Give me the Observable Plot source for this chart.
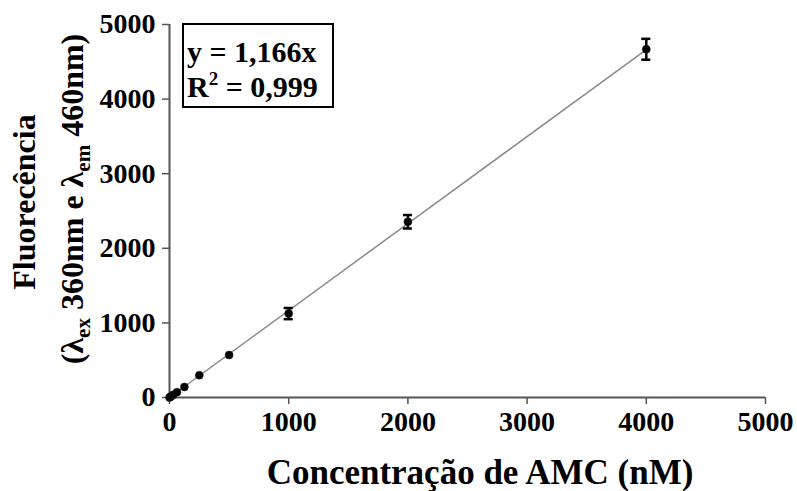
<!DOCTYPE html>
<html>
<head>
<meta charset="utf-8">
<script src="https://cdn.jsdelivr.net/npm/d3@7"></script>
<script src="https://cdn.jsdelivr.net/npm/@observablehq/plot@0.6"></script>
<style>
  html, body { margin: 0; padding: 0; background: #fff; }
</style>
</head>
<body>
<div id="chart"></div>
<script>
// Data
const concentrations = [0, 7.8, 15.6, 31.25, 62.5, 125, 250, 500, 1000, 2000, 4000]; // nM AMC
const fluorescence   = [0, 9, 18, 36, 72, 141, 298, 570, 1125, 2356, 4668];
const errors         = [0, 0, 0, 0, 0, 0, 0, 0, 75, 90, 140];
const xTicks = [0, 1000, 2000, 3000, 4000, 5000];
const yTicks = [0, 1000, 2000, 3000, 4000, 5000];
const fitSlope = [1.166];
const fitRange = [0, 4000];
const equationText = "y = 1,166x";
const r2Text = "0,999";

const points = concentrations.map((c, i) => ({x: c, y: fluorescence[i], e: errors[i]}));
const bars = points.filter(d => d.e > 0);
const fit = fitRange.map(x => ({x, y: fitSlope[0] * x}));

const FONT = "'Liberation Serif', 'Times New Roman', serif";
const AXIS = "#555";

const svg = Plot.plot({
  width: 797,
  height: 491,
  marginLeft: 169,
  marginRight: 32,
  marginTop: 24,
  marginBottom: 94,
  style: {fontFamily: FONT, fontSize: "28px", fontWeight: "bold", color: "#000", background: "#fff"},
  x: {domain: [0, 5000]},
  y: {domain: [0, 5000]},
  marks: [
    Plot.ruleY([0], {stroke: AXIS, strokeWidth: 2}),
    Plot.ruleX([0], {stroke: AXIS, strokeWidth: 2}),
    Plot.axisX({ticks: xTicks, tickFormat: d => String(d), tickSize: 7, tickPadding: 7, stroke: AXIS, strokeWidth: 1.5, label: null}),
    Plot.axisY({ticks: yTicks, tickFormat: d => String(d), tickSize: 7, tickPadding: 7, stroke: AXIS, strokeWidth: 1.5, label: null}),
    Plot.line(fit, {x: "x", y: "y", stroke: "#8a8a8a", strokeWidth: 1.5}),
    Plot.ruleX(bars, {x: "x", y1: d => d.y - d.e, y2: d => d.y + d.e, stroke: "#000", strokeWidth: 2.5}),
    Plot.ruleY(bars, {y: d => d.y - d.e, x1: d => d.x - 38, x2: d => d.x + 38, stroke: "#000", strokeWidth: 2.5}),
    Plot.ruleY(bars, {y: d => d.y + d.e, x1: d => d.x - 38, x2: d => d.x + 38, stroke: "#000", strokeWidth: 2.5}),
    Plot.dot(points, {x: "x", y: "y", r: 4, fill: "#000", stroke: "#222", strokeWidth: 0.5})
  ]
});

const s = d3.select(svg);

// x axis title
s.append("text")
  .attr("x", 480).attr("y", 484)
  .attr("text-anchor", "middle")
  .style("font-family", FONT).style("font-weight", "bold").style("font-size", "35px")
  .text("Concentração de AMC (nM)");

// y axis title, line 1
s.append("text")
  .attr("transform", "translate(35,202) rotate(-90)")
  .attr("text-anchor", "middle")
  .style("font-family", FONT).style("font-weight", "bold").style("font-size", "32px")
  .text("Fluorecência");

// y axis title, line 2 with subscripts
const t2 = s.append("text")
  .attr("transform", "translate(83,199) rotate(-90)")
  .attr("text-anchor", "middle")
  .style("font-family", FONT).style("font-weight", "bold").style("font-size", "32px");
t2.append("tspan").text("(λ");
t2.append("tspan").attr("dy", 7).style("font-size", "21px").text("ex");
t2.append("tspan").attr("dy", -7).text(" 360nm e λ");
t2.append("tspan").attr("dy", 7).style("font-size", "21px").text("em");
t2.append("tspan").attr("dy", -7).text(" 460nm)");

// equation box
s.append("rect")
  .attr("x", 183).attr("y", 24).attr("width", 150).attr("height", 83)
  .attr("fill", "#fff").attr("stroke", "#000").attr("stroke-width", 2);
s.append("text")
  .attr("x", 187).attr("y", 62)
  .attr("text-anchor", "start")
  .style("font-family", FONT).style("font-weight", "bold").style("font-size", "30px")
  .text(equationText);
const r2 = s.append("text")
  .attr("x", 187).attr("y", 97)
  .attr("text-anchor", "start")
  .style("font-family", FONT).style("font-weight", "bold").style("font-size", "30px");
r2.append("tspan").text("R");
r2.append("tspan").attr("dy", -12).style("font-size", "19px").text("2");
r2.append("tspan").attr("dy", 12).text(" = " + r2Text);

document.getElementById("chart").appendChild(svg);
</script>
</body>
</html>
